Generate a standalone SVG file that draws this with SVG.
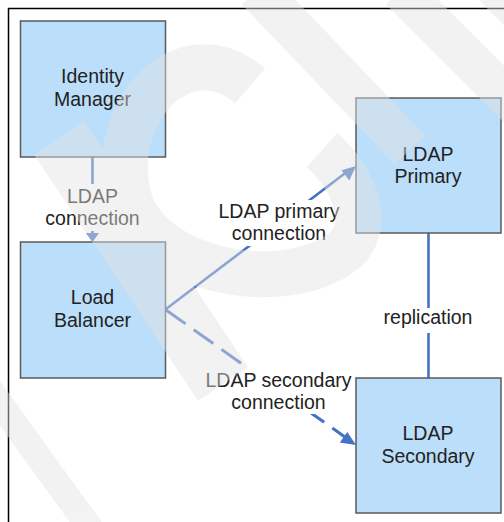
<svg xmlns="http://www.w3.org/2000/svg" width="504" height="522" viewBox="0 0 504 522">
<defs>
<style>
.box{fill:#bbdefb;stroke:#5a5a5a;stroke-width:1.5}
.lbl{font-family:"Liberation Sans",Arial,sans-serif;font-size:19.5px;fill:#222;text-anchor:middle}
.ln{stroke:#4472c4;stroke-width:2.6;fill:none}
.dash{stroke:#4472c4;stroke-width:3;fill:none;stroke-dasharray:24 10}
.bg{fill:#fff}
.arr{fill:#4472c4}
</style>
</defs>
<rect width="504" height="522" fill="#fff"/>
<rect x="8.5" y="8.5" width="560" height="560" fill="none" stroke="#000" stroke-width="1.5"/>

<g id="connectors">
  <line class="ln" x1="92.5" y1="157" x2="92.5" y2="234"/>
  <polygon class="arr" points="86,233 99,233 92.5,242"/>
  <line class="ln" x1="166" y1="309" x2="348" y2="171"/>
  <polygon class="arr" points="356,166 341.5,170.3 349.3,180.6"/>
  <line class="dash" x1="166" y1="310" x2="347" y2="438.5"/>
  <polygon class="arr" points="356,445 347.3,432 339.8,442.6"/>
  <line class="ln" x1="428.5" y1="233" x2="428.5" y2="378"/>
  <rect class="bg" x="40" y="184" width="105" height="47"/>
  <rect class="bg" x="212" y="200" width="134" height="46"/>
  <rect class="bg" x="200" y="367" width="157" height="47"/>
  <rect class="bg" x="378" y="308" width="100" height="25"/>
  <text class="lbl" x="92.5" y="203">LDAP</text>
  <text class="lbl" x="92.5" y="225">connection</text>
  <text class="lbl" x="279" y="218">LDAP primary</text>
  <text class="lbl" x="279" y="240">connection</text>
  <text class="lbl" x="278.5" y="387">LDAP secondary</text>
  <text class="lbl" x="278.5" y="409">connection</text>
  <text class="lbl" x="428" y="324">replication</text>
</g>

<g id="identity-manager">
  <rect class="box" x="20.5" y="21" width="145" height="136"/>
  <text class="lbl" x="92.5" y="83">Identity</text>
  <text class="lbl" x="92.5" y="106">Manager</text>
</g>
<g id="load-balancer">
  <rect class="box" x="20.5" y="242" width="145" height="136"/>
  <text class="lbl" x="92.5" y="304">Load</text>
  <text class="lbl" x="92.5" y="327">Balancer</text>
</g>
<g id="ldap-primary">
  <rect class="box" x="356" y="98" width="145" height="135"/>
  <text class="lbl" x="428" y="161">LDAP</text>
  <text class="lbl" x="428" y="183">Primary</text>
</g>
<g id="ldap-secondary">
  <rect class="box" x="356" y="378" width="145" height="135"/>
  <text class="lbl" x="428" y="440">LDAP</text>
  <text class="lbl" x="428" y="463">Secondary</text>
</g>

<g id="watermark" opacity="0.45" fill="none" stroke="#e4e4e4" stroke-linecap="butt">
  <path d="M250,86 C185,30 108,110 128,195 C146,272 285,298 345,250 C372,225 355,180 322,150" stroke-width="46"/>
  <line x1="59" y1="138" x2="223" y2="384" stroke-width="60"/>
  <line x1="257" y1="-10" x2="410" y2="150" stroke-width="42"/>
  <line x1="400" y1="-10" x2="530" y2="120" stroke-width="40"/>
  <line x1="490" y1="-10" x2="530" y2="30" stroke-width="30"/>
  <line x1="-60" y1="320" x2="95" y2="535" stroke-width="26"/>
</g>
</svg>
